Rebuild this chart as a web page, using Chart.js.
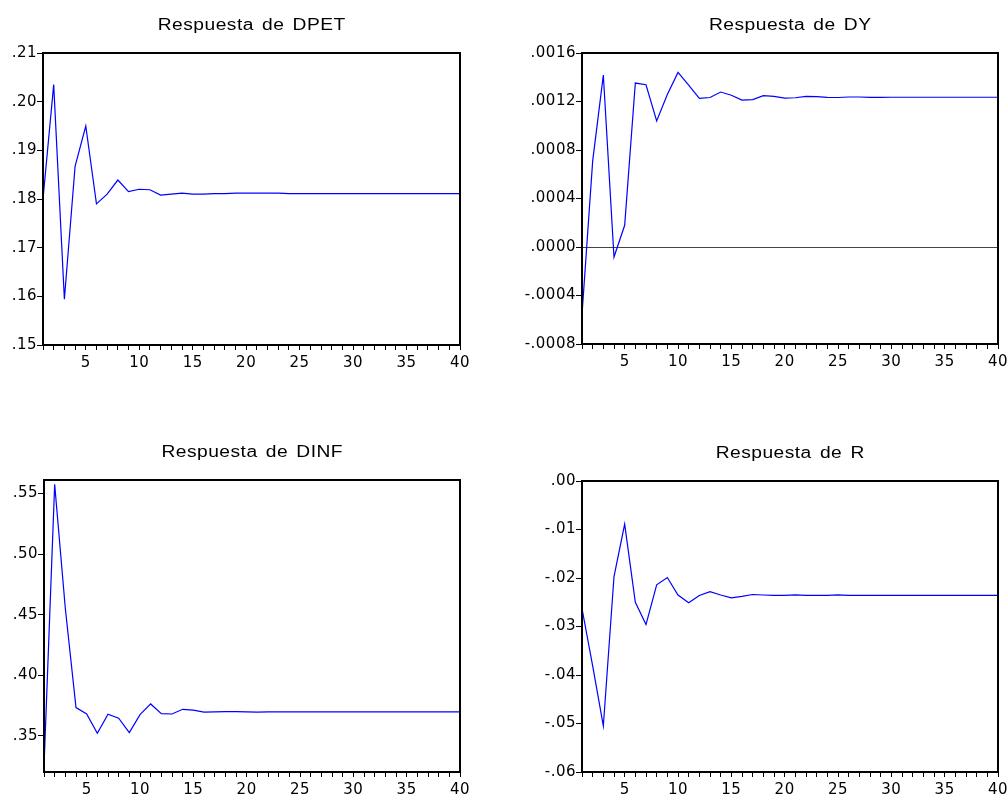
<!DOCTYPE html>
<html>
<head>
<meta charset="utf-8">
<script src="https://cdn.jsdelivr.net/npm/chart.js@4.4.0/dist/chart.umd.min.js"></script>
<style>
  html, body { margin: 0; padding: 0; background: #fff; overflow: hidden; }
  #wrap { position: relative; width: 1007px; height: 798px; }
  #wrap canvas { position: absolute; }
</style>
</head>
<body>
<div id="wrap"></div>
<script>
// horizon (periods after the shock)
const periods = [1, 2, 3, 4, 5, 6, 7, 8, 9, 10, 11, 12, 13, 14, 15, 16, 17, 18, 19, 20,
  21, 22, 23, 24, 25, 26, 27, 28, 29, 30, 31, 32, 33, 34, 35, 36, 37, 38, 39, 40];
const labelledPeriods = [5, 10, 15, 20, 25, 30, 35, 40];

// impulse responses
const dpet = [0.1800, 0.2035, 0.1594, 0.1867, 0.1950, 0.1790, 0.1810, 0.1839, 0.1815, 0.1820,
  0.1819, 0.1808, 0.1810, 0.1812, 0.1810, 0.1810, 0.1811, 0.1811, 0.1812, 0.1812,
  0.1812, 0.1812, 0.1812, 0.1811, 0.1811, 0.1811, 0.1811, 0.1811, 0.1811, 0.1811,
  0.1811, 0.1811, 0.1811, 0.1811, 0.1811, 0.1811, 0.1811, 0.1811, 0.1811, 0.1811];
const dy = [-0.000559, 0.000708, 0.001418, -0.000083, 0.000179, 0.001352, 0.001338, 0.001040, 0.001258, 0.001440,
  0.001336, 0.001225, 0.001233, 0.001278, 0.001252, 0.001212, 0.001216, 0.001248, 0.001243, 0.001228,
  0.001231, 0.001243, 0.001240, 0.001234, 0.001233, 0.001237, 0.001237, 0.001234, 0.001234, 0.001235,
  0.001235, 0.001235, 0.001235, 0.001235, 0.001235, 0.001235, 0.001235, 0.001235, 0.001235, 0.001235];
const dinf = [0.3244, 0.5574, 0.4551, 0.3734, 0.3682, 0.3522, 0.3679, 0.3646, 0.3528, 0.3676,
  0.3764, 0.3684, 0.3681, 0.3720, 0.3713, 0.3697, 0.3698, 0.3700, 0.3700, 0.3699,
  0.3697, 0.3698, 0.3699, 0.3698, 0.3698, 0.3698, 0.3698, 0.3698, 0.3698, 0.3698,
  0.3698, 0.3698, 0.3698, 0.3698, 0.3698, 0.3698, 0.3698, 0.3698, 0.3698, 0.3698];
const r = [-0.0263, -0.0381, -0.0505, -0.0197, -0.0089, -0.0250, -0.0296, -0.0214, -0.0199, -0.0235,
  -0.0251, -0.0236, -0.0228, -0.0235, -0.0241, -0.0238, -0.0234, -0.0235, -0.0236, -0.0236,
  -0.0235, -0.0236, -0.0236, -0.0236, -0.0235, -0.0236, -0.0236, -0.0236, -0.0236, -0.0236,
  -0.0236, -0.0236, -0.0236, -0.0236, -0.0236, -0.0236, -0.0236, -0.0236, -0.0236, -0.0236];

// y tick values
const dpetTicks = [0.15, 0.16, 0.17, 0.18, 0.19, 0.20, 0.21];
const dyTicks = [-0.0008, -0.0004, 0, 0.0004, 0.0008, 0.0012, 0.0016];
const dinfTicks = [0.35, 0.40, 0.45, 0.50, 0.55];
const rTicks = [-0.06, -0.05, -0.04, -0.03, -0.02, -0.01, 0];

// box = canvas [x, y, w, h]; plot = frame [left, top, right, bottom] in page px
const panels = [
  { title: 'Respuesta de DPET', values: dpet, ticks: dpetTicks, decimals: 2, min: 0.15, max: 0.21,
    zeroLine: false, box: [0, 0, 503, 399], plot: [43, 53, 460, 345] },
  { title: 'Respuesta de DY', values: dy, ticks: dyTicks, decimals: 4, min: -0.0008, max: 0.0016,
    zeroLine: true, box: [504, 0, 520, 399], plot: [582, 53, 998, 344] },
  { title: 'Respuesta de DINF', values: dinf, ticks: dinfTicks, decimals: 2, min: 0.3203, max: 0.561,
    zeroLine: false, box: [0, 399, 503, 399], plot: [44, 480, 460, 772] },
  { title: 'Respuesta de R', values: r, ticks: rTicks, decimals: 2, min: -0.06, max: 0,
    zeroLine: false, box: [504, 399, 520, 399], plot: [582, 481, 998, 772] }
];

const TICK_FONT = '"DejaVu Sans", "Liberation Sans", sans-serif';
const TITLE_FONT = '"Liberation Sans", Arial, sans-serif';

function fmt(v, d) {
  const s = Math.abs(v).toFixed(d).replace(/^0/, '');
  return (v < -1e-12 ? '-' : '') + s;
}

// EViews-style frame and a horizontally stretched title
const framePlugin = {
  id: 'frame',
  beforeDraw(chart) {
    chart.ctx.letterSpacing = '0.5px';
  },
  afterDraw(chart, args, opts) {
    const { ctx, chartArea: a } = chart;
    ctx.save();
    ctx.strokeStyle = '#000';
    ctx.lineWidth = 2;
    ctx.strokeRect(a.left, a.top, a.right - a.left, a.bottom - a.top);
    ctx.translate((a.left + a.right) / 2, a.top - 23);
    ctx.scale(1.2, 1);
    ctx.font = '16px ' + TITLE_FONT;
    ctx.letterSpacing = '0.4px';
    ctx.wordSpacing = '2px';
    ctx.fillStyle = '#000';
    ctx.textAlign = 'center';
    ctx.textBaseline = 'alphabetic';
    ctx.fillText(opts.text, 0.2, 0);
    ctx.restore();
  }
};

const wrap = document.getElementById('wrap');

panels.forEach(p => {
  const [bx, by, bw, bh] = p.box;
  const [pl, pt, pr, pb] = p.plot;
  const canvas = document.createElement('canvas');
  canvas.width = bw;
  canvas.height = bh;
  canvas.style.left = bx + 'px';
  canvas.style.top = by + 'px';
  canvas.style.width = bw + 'px';
  canvas.style.height = bh + 'px';
  wrap.appendChild(canvas);

  new Chart(canvas.getContext('2d'), {
    type: 'line',
    data: {
      datasets: [{
        data: periods.map((x, i) => ({ x: x, y: p.values[i] })),
        borderColor: '#0000ff',
        borderWidth: 1.2,
        pointRadius: 0,
        tension: 0,
        fill: false
      }]
    },
    plugins: [framePlugin],
    options: {
      responsive: false,
      animation: false,
      layout: { padding: { top: pt - by, right: bx + bw - pr, left: 0, bottom: 0 } },
      plugins: {
        legend: { display: false },
        tooltip: { enabled: false },
        frame: { text: p.title }
      },
      scales: {
        x: {
          type: 'linear',
          min: 1,
          max: 40,
          afterBuildTicks: s => { s.ticks = periods.map(v => ({ value: v })); },
          afterFit: s => { s.height = by + bh - pb; },
          grid: { drawOnChartArea: false, drawTicks: true, tickLength: 5, color: '#000', tickColor: '#000' },
          border: { display: false },
          ticks: {
            autoSkip: false,
            maxRotation: 0,
            padding: 4,
            color: '#000',
            font: { family: TICK_FONT, size: 15 },
            callback: v => labelledPeriods.includes(v) ? String(v) : ''
          }
        },
        y: {
          min: p.min,
          max: p.max,
          afterBuildTicks: s => { s.ticks = p.ticks.map(v => ({ value: v })); },
          afterFit: s => { s.width = pl - bx; },
          grid: {
            drawOnChartArea: true,
            drawTicks: true,
            tickLength: 6,
            lineWidth: 1,
            color: c => (p.zeroLine && c.tick && c.tick.value === 0) ? '#444' : 'rgba(0,0,0,0)',
            tickColor: '#000'
          },
          border: { display: false },
          ticks: {
            padding: 0,
            color: '#000',
            font: { family: TICK_FONT, size: 15 },
            callback: v => fmt(v, p.decimals)
          }
        }
      }
    }
  });
});
</script>
</body>
</html>
